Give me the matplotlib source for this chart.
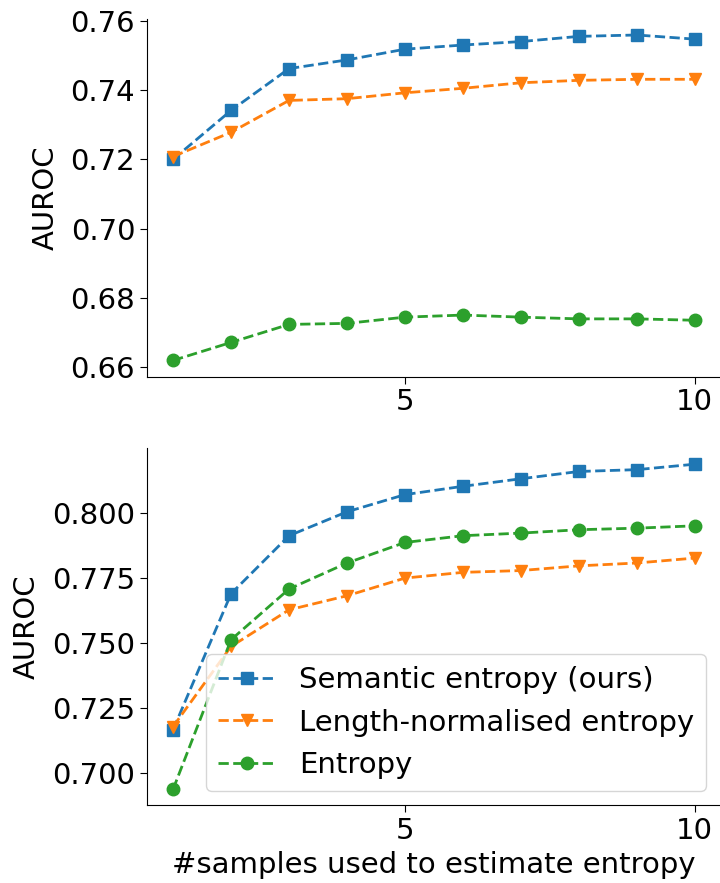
import matplotlib
matplotlib.use("Agg")
import matplotlib.pyplot as plt

samples = [1, 2, 3, 4, 5, 6, 7, 8, 9, 10]

top_semantic = [0.7200, 0.7341, 0.7462, 0.7487, 0.7518, 0.7530, 0.7540, 0.7555, 0.7559, 0.7547]
top_lengthnorm = [0.7208, 0.7278, 0.7370, 0.7375, 0.7392, 0.7405, 0.7421, 0.7428, 0.7431, 0.7431]
top_entropy = [0.6619, 0.6671, 0.6723, 0.6726, 0.6744, 0.6750, 0.6744, 0.6739, 0.6739, 0.6735]

bot_semantic = [0.7167, 0.7690, 0.7913, 0.8005, 0.8071, 0.8103, 0.8132, 0.8160, 0.8167, 0.8188]
bot_lengthnorm = [0.7179, 0.7487, 0.7628, 0.7682, 0.7750, 0.7772, 0.7779, 0.7797, 0.7808, 0.7827]
bot_entropy = [0.6938, 0.7513, 0.7708, 0.7808, 0.7887, 0.7913, 0.7923, 0.7936, 0.7942, 0.7951]

labels = ["Semantic entropy (ours)", "Length-normalised entropy", "Entropy"]
xticks = [5, 10]
top_yticks = [0.66, 0.68, 0.70, 0.72, 0.74, 0.76]
bot_yticks = [0.700, 0.725, 0.750, 0.775, 0.800]

plt.rcParams['font.family'] = ['DejaVu Sans']
FS = 21

fig = plt.figure(figsize=(7.2, 8.83), dpi=100)
ax1 = fig.add_axes([0.2042, 0.5734, 0.797, 0.4054])
ax2 = fig.add_axes([0.2042, 0.0878, 0.797, 0.4049])

styles = [("tab:blue", "s"), ("tab:orange", "v"), ("tab:green", "o")]

for ax, series in ((ax1, (top_semantic, top_lengthnorm, top_entropy)),
                   (ax2, (bot_semantic, bot_lengthnorm, bot_entropy))):
    for vals, (c, m), lab in zip(series, styles, labels):
        ax.plot(samples, vals, linestyle="--", marker=m, color=c, lw=2, ms=9, label=lab)
    ax.spines['top'].set_visible(False)
    ax.spines['right'].set_visible(False)
    ax.set_xticks(xticks)
    ax.tick_params(labelsize=FS, length=5)
    ax.set_ylabel("AUROC", fontsize=FS, labelpad=8)

ax1.set_yticks(top_yticks)
ax1.set_yticklabels([f"{v:.2f}" for v in top_yticks])
ax2.set_yticks(bot_yticks)
ax2.set_yticklabels([f"{v:.3f}" for v in bot_yticks])
ax2.set_xlabel("#samples used to estimate entropy", fontsize=FS)
ax2.legend(loc="lower right", fontsize=FS)

fig.savefig("out.png", dpi=100)
